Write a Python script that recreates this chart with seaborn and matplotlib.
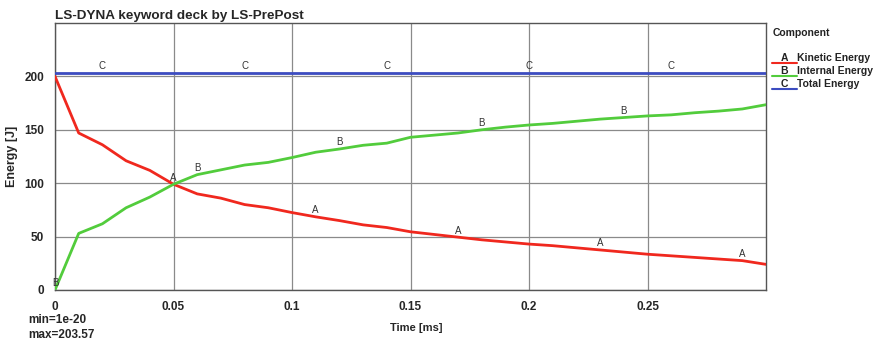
import numpy as np
import pandas as pd
import matplotlib
matplotlib.use("Agg")
import matplotlib.pyplot as plt
from matplotlib.lines import Line2D
import seaborn as sns

# Time history of energies (ms, J)
time_ms = [0.00, 0.01, 0.02, 0.03, 0.04, 0.05, 0.06, 0.07, 0.08, 0.09, 0.10,
           0.11, 0.12, 0.13, 0.14, 0.15, 0.16, 0.17, 0.18, 0.19, 0.20,
           0.21, 0.22, 0.23, 0.24, 0.25, 0.26, 0.27, 0.28, 0.29, 0.30]
kinetic = [200.0, 147.0, 136.0, 121.0, 112.0, 99.0, 90.0, 86.0, 80.0, 77.0, 72.5,
           68.5, 65.0, 61.0, 58.5, 54.5, 52.0, 49.5, 47.0, 45.0, 43.0,
           41.5, 39.5, 37.5, 35.5, 33.5, 32.0, 30.5, 29.0, 27.5, 24.0]
internal = [0.0, 53.0, 62.0, 77.0, 87.0, 99.0, 108.0, 112.5, 117.0, 119.5, 124.0,
            129.0, 132.0, 135.5, 137.5, 143.0, 145.0, 147.0, 150.0, 152.5, 154.5,
            156.0, 158.0, 160.0, 161.5, 163.0, 164.0, 166.0, 167.5, 169.5, 173.5]
total = [203.5] * len(time_ms)

components = ["Kinetic Energy", "Internal Energy", "Total Energy"]
letters = ["A", "B", "C"]
colors = ["#f0281e", "#52cc3c", "#3c4cc0"]
# first curve-letter position per component, then repeated every 0.06 ms
letter_start = [0.05, 0.0, 0.02]
letter_step = 0.06

x_ticks = [0, 0.05, 0.1, 0.15, 0.2, 0.25]
x_tick_labels = ["0", "0.05", "0.1", "0.15", "0.2", "0.25"]
y_ticks = [0, 50, 100, 150, 200]

df = pd.DataFrame({
    "Time": time_ms * 3,
    "Energy": kinetic + internal + total,
    "Component": [c for c in components for _ in time_ms],
})

sns.set_style("white")
plt.rcParams["font.family"] = ["Liberation Sans", "DejaVu Sans"]

fig = plt.figure(figsize=(8.8, 3.43), dpi=100)
ax = fig.add_axes([55 / 880, 1 - 290 / 343, (766 - 55) / 880, (290 - 23) / 343])

sns.lineplot(data=df, x="Time", y="Energy", hue="Component",
             palette=dict(zip(components, colors)), linewidth=2.0,
             legend=False, ax=ax, zorder=3)

ax.set_xlim(0, 0.3)
ax.set_ylim(0, 250)
ax.set_xticks(x_ticks)
ax.set_xticklabels(x_tick_labels, fontweight="bold", fontsize=8.5)
ax.set_yticks(y_ticks)
ax.set_yticklabels([str(v) for v in y_ticks], fontweight="bold", fontsize=8.5)
ax.set_xticks(np.arange(0.025, 0.3, 0.05), minor=True)
ax.set_yticks(np.arange(25, 250, 50), minor=True)
ax.tick_params(axis="both", which="major", direction="out", length=6,
               width=0.9, color="#444444", pad=2)
ax.tick_params(axis="both", which="minor", direction="in", length=6,
               width=0.9, color="#444444")
ax.grid(True, which="major", color="#8a8a8a", linewidth=0.9, zorder=0)
for s in ax.spines.values():
    s.set_color("#555555")
    s.set_linewidth(1.0)

ax.set_xlabel("Time [ms]", fontweight="bold", fontsize=8, labelpad=6)
ax.xaxis.set_label_coords(0.508, -0.125)
ax.set_ylabel("Energy [J]", fontweight="bold", fontsize=9, labelpad=4)
ax.set_title("LS-DYNA keyword deck by LS-PrePost", loc="left",
             fontweight="bold", fontsize=9.7, pad=3)

# curve letters along each line
series = [kinetic, internal, total]
for vals, letter, start in zip(series, letters, letter_start):
    t = start
    while t < 0.295:
        y = float(np.interp(t, time_ms, vals))
        ax.text(t, y + 1.5, letter, fontsize=7, color="#333333",
                ha="center", va="bottom", zorder=4)
        t += letter_step

# min / max annotation
fig.text(28 / 880, 1 - 320 / 343, "min=1e-20", fontweight="bold", fontsize=8.5,
         ha="left", va="center")
fig.text(28 / 880, 1 - 335 / 343, "max=203.57", fontweight="bold", fontsize=8.5,
         ha="left", va="center")

# component key on the right
fig.text(773 / 880, 1 - 33 / 343, "Component", fontweight="bold", fontsize=7.5,
         ha="left", va="center", color="#222222")
for i, (name, letter, col) in enumerate(zip(components, letters, colors)):
    yk = 1 - (58 + 13 * i) / 343
    fig.add_artist(Line2D([772 / 880, 797 / 880], [yk - 4.5 / 343, yk - 4.5 / 343],
                          color=col, linewidth=1.5, transform=fig.transFigure))
    fig.text(784 / 880, yk, letter, fontweight="bold", fontsize=7.5,
             ha="center", va="center", color="#222222")
    fig.text(797 / 880, yk, name, fontweight="bold", fontsize=7.5,
             ha="left", va="center", color="#222222")

fig.savefig("out.png", dpi=100)
